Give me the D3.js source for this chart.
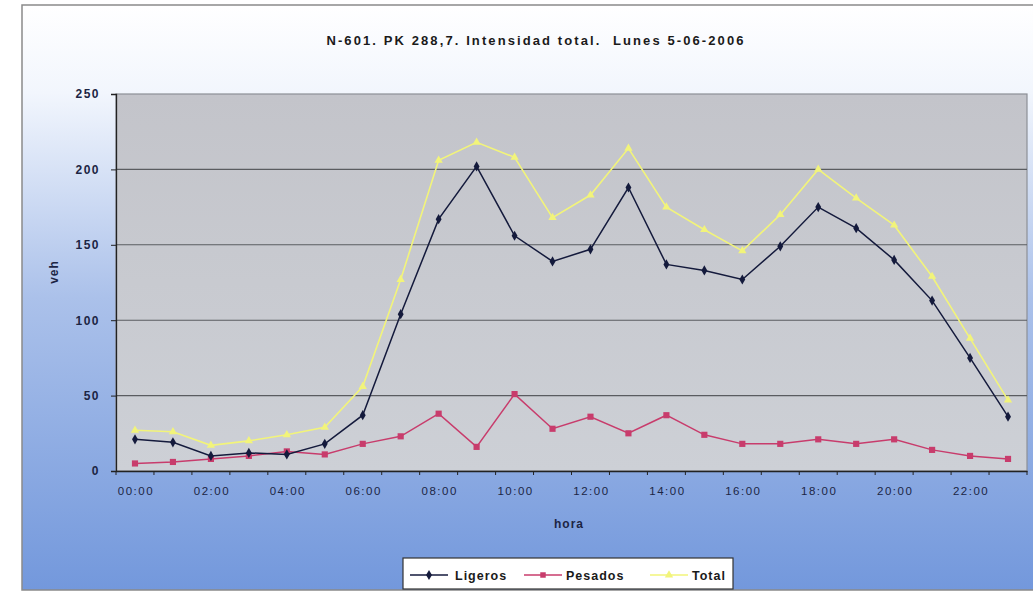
<!DOCTYPE html>
<html><head><meta charset="utf-8">
<script src="https://cdn.jsdelivr.net/npm/d3@7/dist/d3.min.js"></script>
<style>html,body{margin:0;padding:0;background:#fff;}svg{display:block;}</style>
</head><body>
<svg id="c" width="1033" height="595"></svg>
<script>
const hours = ["00:00","01:00","02:00","03:00","04:00","05:00","06:00","07:00","08:00","09:00","10:00","11:00","12:00","13:00","14:00","15:00","16:00","17:00","18:00","19:00","20:00","21:00","22:00","23:00"];
const tickLabels = ["00:00","02:00","04:00","06:00","08:00","10:00","12:00","14:00","16:00","18:00","20:00","22:00"];
const ligeros = [21,19,10,12,11,18,37,104,167,202,156,139,147,188,137,133,127,149,175,161,140,113,75,36];
const pesados = [5,6,8,10,13,11,18,23,38,16,51,28,36,25,37,24,18,18,21,18,21,14,10,8];
const total = [27,26,17,20,24,29,56,127,206,218,208,168,183,214,175,160,146,170,200,181,163,129,88,47];
const yTicks = [0,50,100,150,200,250];
const seriesNames = ["Ligeros","Pesados","Total"];

const FONT = "Liberation Sans, Arial, sans-serif";
const svg = d3.select("#c");
const defs = svg.append("defs");
const g1 = defs.append("linearGradient").attr("id","bg").attr("x1",0).attr("y1",0).attr("x2",0).attr("y2",1);
g1.append("stop").attr("offset","0%").attr("stop-color","#ffffff");
g1.append("stop").attr("offset","15%").attr("stop-color","#f2f6fd");
g1.append("stop").attr("offset","50%").attr("stop-color","#abc1ea");
g1.append("stop").attr("offset","100%").attr("stop-color","#7398dc");
const g2 = defs.append("linearGradient").attr("id","pa").attr("x1",0).attr("y1",0).attr("x2",0).attr("y2",1);
g2.append("stop").attr("offset","0%").attr("stop-color","#c3c4ca");
g2.append("stop").attr("offset","100%").attr("stop-color","#cdd0d6");

// chart area
svg.append("rect").attr("x",22).attr("y",5).attr("width",1030).attr("height",585)
  .attr("fill","url(#bg)").attr("stroke","#8a8a8a").attr("stroke-width",1.5);

const L=116, T=94, R=1027, B=471;
const x = d3.scaleBand().domain(hours).range([L,R]).paddingInner(0).paddingOuter(0);
const y = d3.scaleLinear().domain([0,250]).range([B,T]);

svg.append("rect").attr("x",L).attr("y",T).attr("width",R-L).attr("height",B-T)
  .attr("fill","url(#pa)").attr("stroke","#8c8f96").attr("stroke-width",1.2);

// gridlines
svg.append("g").selectAll("line").data(yTicks.filter(d=>d>0 && d<250)).join("line")
  .attr("x1",L).attr("x2",R).attr("y1",d=>y(d)).attr("y2",d=>y(d))
  .attr("stroke","#5a5c60").attr("stroke-width",1.1);

// y axis
const ya = svg.append("g").attr("transform",`translate(${L},0)`)
  .call(d3.axisLeft(y).tickValues(yTicks).tickSize(5).tickPadding(11));
ya.select(".domain").attr("stroke","#222").attr("stroke-width",1.3);
ya.selectAll(".tick line").attr("stroke","#222");
ya.selectAll("text").attr("font-family",FONT).attr("font-size",12).attr("letter-spacing","1.5px")
  .attr("font-weight","bold").attr("fill","#1c2544");

// x axis
const xa = svg.append("g").attr("transform",`translate(0,${B})`)
  .call(d3.axisBottom(x).tickValues([]).tickSize(0));
xa.select(".domain").attr("stroke","#222").attr("stroke-width",1.3);
const bounds = hours.map(h=>x(h)).concat([R]);
xa.selectAll("line.tk").data(bounds).join("line").attr("class","tk")
  .attr("x1",d=>d).attr("x2",d=>d).attr("y1",0).attr("y2",4).attr("stroke","#222");
xa.selectAll("text.lb").data(tickLabels).join("text").attr("class","lb")
  .attr("x",d=>x(d)+x.bandwidth()/2+1).attr("y",24)
  .attr("text-anchor","middle").attr("font-family",FONT).attr("letter-spacing","1.5px")
  .attr("font-size",11.5).attr("fill","#1c2544").text(d=>d);

// axis titles
svg.append("text").attr("x",569).attr("y",528).attr("text-anchor","middle")
  .attr("font-family",FONT).attr("font-size",12).attr("font-weight","bold").attr("letter-spacing","1px")
  .attr("fill","#1c2544").text("hora");
svg.append("text").attr("transform","translate(58,272) rotate(-90)").attr("text-anchor","middle")
  .attr("font-family",FONT).attr("font-size",12).attr("font-weight","bold").attr("letter-spacing","1px")
  .attr("fill","#1c2544").text("veh");

// title
svg.append("text").attr("x",536).attr("y",45).attr("text-anchor","middle")
  .attr("font-family",FONT).attr("font-size",13).attr("font-weight","bold").attr("letter-spacing","2.1px")
  .attr("fill","#1a1a1a").attr("xml:space","preserve").text("N-601. PK 288,7. Intensidad total.  Lunes 5-06-2006");

const cx = h=>x(h)+x.bandwidth()/2;
const line = d3.line().x((d,i)=>cx(hours[i])).y(d=>y(d));
const colors = {Ligeros:"#141a3c", Pesados:"#c83c6c", Total:"#f2f47a"};

function drawSeries(vals,name,shape){
  svg.append("path").datum(vals).attr("d",line).attr("fill","none")
    .attr("stroke",colors[name]).attr("stroke-width",name==="Total"?1.6:1.5);
  const sym = d3.symbol().type(shape).size(name==="Pesados"?38:30);
  svg.append("g").selectAll("path").data(vals).join("path")
    .attr("transform",(d,i)=>`translate(${cx(hours[i])},${y(d)})`)
    .attr("d",sym).attr("fill",colors[name]);
}
drawSeries(total,"Total",d3.symbolTriangle);
drawSeries(pesados,"Pesados",d3.symbolSquare);
drawSeries(ligeros,"Ligeros",d3.symbolDiamond);

// legend
const lg = svg.append("g");
lg.append("rect").attr("x",403).attr("y",558).attr("width",330).attr("height",31)
  .attr("fill","#ffffff").attr("stroke","#333").attr("stroke-width",1.2);
const items = [{n:"Ligeros",lx:410,tx:455,s:d3.symbolDiamond},{n:"Pesados",lx:524,tx:566,s:d3.symbolSquare},{n:"Total",lx:650,tx:692,s:d3.symbolTriangle}];
items.forEach(it=>{
  lg.append("line").attr("x1",it.lx).attr("x2",it.lx+38).attr("y1",575).attr("y2",575)
    .attr("stroke",colors[it.n]).attr("stroke-width",1.5);
  lg.append("path").attr("transform",`translate(${it.lx+19},575)`)
    .attr("d",d3.symbol().type(it.s).size(30)).attr("fill",colors[it.n]);
  lg.append("text").attr("x",it.tx).attr("y",580)
    .attr("font-family",FONT).attr("font-size",12.5).attr("font-weight","bold").attr("letter-spacing","1px")
    .attr("fill","#1a1a1a").text(it.n);
});
</script>
</body></html>
